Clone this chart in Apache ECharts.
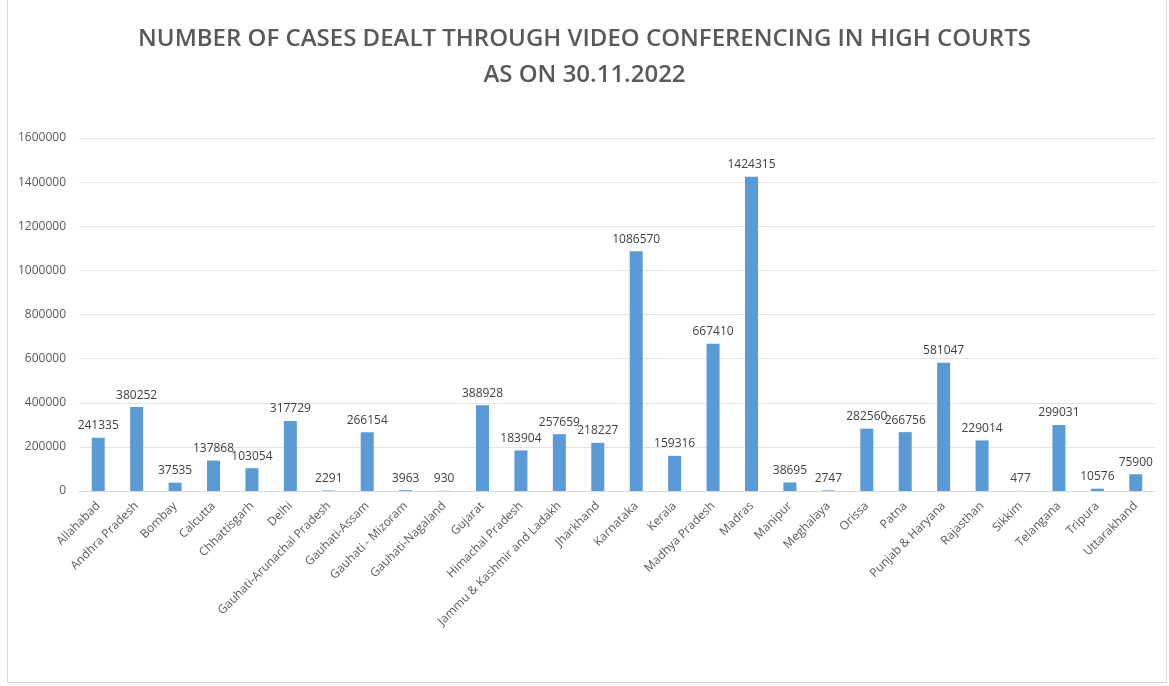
<!DOCTYPE html>
<html>
<head>
<meta charset="utf-8">
<script src="https://cdn.jsdelivr.net/npm/echarts@6/dist/echarts.min.js"></script>
<style>
  html, body { margin: 0; padding: 0; background: #fff; }
  #frame { position: absolute; left: 7px; top: -1px; width: 1160px; height: 684px; border: 1px solid #d9d9d9; box-sizing: border-box; }
  #chart { position: absolute; left: 0; top: 0; width: 1169px; height: 686px; }
</style>
</head>
<body>
<div id="frame"></div>
<div id="chart"></div>
<script>
const courts = [
  "Allahabad", "Andhra Pradesh", "Bombay", "Calcutta", "Chhattisgarh", "Delhi",
  "Gauhati-Arunachal Pradesh", "Gauhati-Assam", "Gauhati - Mizoram", "Gauhati-Nagaland",
  "Gujarat", "Himachal Pradesh", "Jammu & Kashmir and Ladakh", "Jharkhand", "Karnataka",
  "Kerala", "Madhya Pradesh", "Madras", "Manipur", "Meghalaya", "Orissa", "Patna",
  "Punjab & Haryana", "Rajasthan", "Sikkim", "Telangana", "Tripura", "Uttarakhand"
];
const cases = [
  241335, 380252, 37535, 137868, 103054, 317729,
  2291, 266154, 3963, 930,
  388928, 183904, 257659, 218227, 1086570,
  159316, 667410, 1424315, 38695, 2747, 282560, 266756,
  581047, 229014, 477, 299031, 10576, 75900
];
const yTicks = [0, 200000, 400000, 600000, 800000, 1000000, 1200000, 1400000, 1600000];

const chart = echarts.init(document.getElementById("chart"));
chart.setOption({
  animation: false,
  title: {
    text: "NUMBER OF CASES DEALT THROUGH VIDEO CONFERENCING IN HIGH COURTS\nAS ON 30.11.2022",
    left: "center",
    top: 16,
    textStyle: {
      fontFamily: "Open Sans",
      fontSize: 24,
      fontWeight: 600,
      color: "#595959",
      lineHeight: 36
    }
  },
  grid: { left: 79, right: 14, top: 138, bottom: 195 },
  xAxis: {
    type: "category",
    data: courts,
    axisTick: { show: false },
    axisLine: { lineStyle: { color: "#d9d9d9" } },
    axisLabel: {
      rotate: 45,
      interval: 0,
      fontFamily: "Open Sans",
      fontSize: 12,
      color: "#595959",
      margin: 13
    }
  },
  yAxis: {
    type: "value",
    min: yTicks[0],
    max: yTicks[yTicks.length - 1],
    interval: 200000,
    axisLine: { show: false },
    axisTick: { show: false },
    splitLine: { lineStyle: { color: "#e3e3e3" } },
    axisLabel: {
      fontFamily: "Open Sans",
      fontSize: 12,
      color: "#595959",
      margin: 13,
      formatter: (v) => String(v)
    }
  },
  series: [{
    type: "bar",
    data: cases,
    barWidth: 13,
    itemStyle: { color: "#5b9bd5" },
    label: {
      show: true,
      position: "top",
      distance: 6,
      fontFamily: "Open Sans",
      fontSize: 12,
      color: "#404040"
    }
  }]
});
</script>
</body>
</html>
